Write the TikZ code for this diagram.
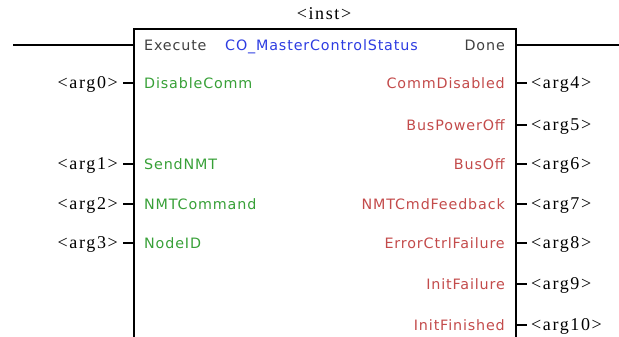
\documentclass[tikz,border=0pt]{standalone}
\usepackage{fontspec}
\newfontfamily\portfont[LetterSpace=6]{DejaVu Sans}
\newfontfamily\argfont[LetterSpace=9]{Liberation Serif}
\definecolor{pgrey}{RGB}{64,64,64}
\definecolor{pblue}{RGB}{45,60,225}
\definecolor{pgreen}{RGB}{55,160,55}
\definecolor{pred}{RGB}{195,75,75}
\tikzset{
  pfont/.style={font=\portfont\fontsize{14.3}{16}\selectfont},
  afont/.style={font=\argfont\fontsize{18}{20}\selectfont},
  inport/.style={anchor=base west,inner sep=0pt,text=pgreen,pfont},
  outport/.style={anchor=base east,inner sep=0pt,text=pred,pfont},
  sysport/.style={inner sep=0pt,text=pgrey,pfont},
  argl/.style={anchor=base east,inner sep=0pt,afont},
  argr/.style={anchor=base west,inner sep=0pt,afont},
  wire/.style={line width=1.3pt},
  boxline/.style={line width=1.5pt}
}
\begin{document}
\begin{tikzpicture}[x=1pt,y=-1pt]
\useasboundingbox (0,0) rectangle (619,337);
% block frame
\coordinate (tl) at (134,29);
\coordinate (tr) at (516,29);
\coordinate (bl) at (134,337);
\coordinate (br) at (516,337);
\draw[boxline] (bl) -- (tl) -- (tr) -- (br);
\node[inner sep=0pt,anchor=base,afont] (inst) at (324,20) {<inst>};
% execute / done
\node[sysport,anchor=base west] (exec) at (144,50.2) {Execute};
\node[sysport,anchor=base east] (done) at (505,50.2) {Done};
\node[inner sep=0pt,anchor=base west,text=pblue,pfont] (type) at (225,50.2) {CO\_MasterControlStatus};
\coordinate (execin) at (13,45);
\coordinate (execedge) at (134,45);
\coordinate (doneedge) at (516,45);
\coordinate (doneout) at (619,45);
\draw[wire] (execin) -- (execedge);
\draw[wire] (doneedge) -- (doneout);
% inputs
\foreach \n/\t/\y in {0/DisableComm/83, 1/SendNMT/164, 2/NMTCommand/204, 3/NodeID/243}{
  \node[inport] (in\n) at (144,\y+5.2) {\t};
  \node[argl] (a\n) at (118,\y+5.5) {<arg\n>};
  \coordinate (ie\n) at (134,\y);
  \draw[wire,shorten <=5pt] (a\n.east |- ie\n) -- (ie\n);
}
% outputs
\foreach \n/\t/\y in {4/CommDisabled/83, 5/BusPowerOff/125, 6/BusOff/164, 7/NMTCmdFeedback/204, 8/ErrorCtrlFailure/243, 9/InitFailure/284, 10/InitFinished/325}{
  \node[outport] (out\n) at (505,\y+5.2) {\t};
  \node[argr] (a\n) at (531,\y+5.5) {<arg\n>};
  \coordinate (oe\n) at (516,\y);
  \draw[wire,shorten >=4pt] (oe\n) -- (a\n.west |- oe\n);
}
\end{tikzpicture}
\end{document}
